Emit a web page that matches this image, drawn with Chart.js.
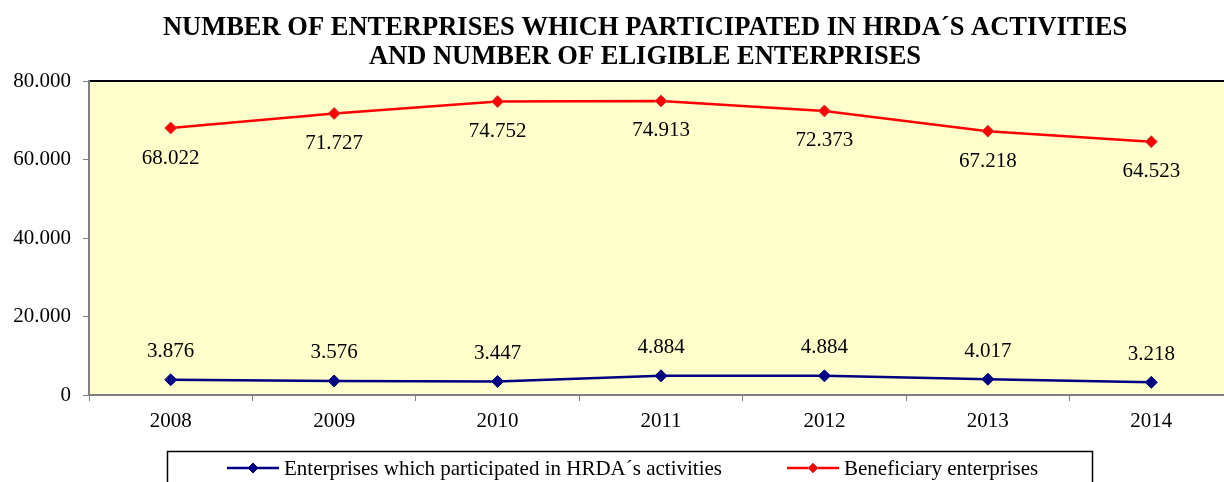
<!DOCTYPE html>
<html>
<head>
<meta charset="utf-8">
<script src="https://cdn.jsdelivr.net/npm/chart.js@4/dist/chart.umd.min.js"></script>
<style>
  html, body { margin: 0; padding: 0; background: #fff; overflow: hidden; }
  #wrap { width: 1240px; height: 482px; }
</style>
</head>
<body>
<div id="wrap"><canvas id="chart" width="1240" height="482"></canvas></div>
<script>
/* ---------- Data ---------- */
const years        = ['2008', '2009', '2010', '2011', '2012', '2013', '2014'];
const participated = [3876, 3576, 3447, 4884, 4884, 4017, 3218];
const beneficiary  = [68022, 71727, 74752, 74913, 72373, 67218, 64523];
const yTicks       = [0, 20000, 40000, 60000, 80000];

const titleLines = [
  'NUMBER OF ENTERPRISES WHICH PARTICIPATED IN HRDA\u00B4S ACTIVITIES',
  'AND NUMBER OF ELIGIBLE ENTERPRISES'
];

const SERIF = '"Liberation Serif", "Times New Roman", serif';
const fmt = (v) => v === 0 ? '0' : v.toLocaleString('de-DE');

/* ---------- Plugins ---------- */
// yellow plot background + black top border
const plotBg = {
  id: 'plotBg',
  beforeDraw(chart) {
    const { ctx, chartArea: a } = chart;
    ctx.save();
    ctx.fillStyle = '#FFFFCC';
    ctx.fillRect(a.left, a.top, a.right - a.left, a.bottom - a.top);
    ctx.strokeStyle = '#000';
    ctx.lineWidth = 2;
    ctx.beginPath();
    ctx.moveTo(a.left, a.top);
    ctx.lineTo(a.right, a.top);
    ctx.stroke();
    ctx.restore();
  }
};

// value labels: red below point, blue above
const valueLabels = {
  id: 'valueLabels',
  afterDatasetsDraw(chart) {
    const { ctx } = chart;
    ctx.save();
    ctx.font = '21px ' + SERIF;
    ctx.fillStyle = '#000';
    ctx.textAlign = 'center';
    ctx.textBaseline = 'middle';
    chart.data.datasets.forEach((ds, i) => {
      const meta = chart.getDatasetMeta(i);
      meta.data.forEach((pt, j) => {
        const dy = ds.labelBelow ? 30 : -28;
        ctx.fillText(fmt(ds.data[j]), pt.x, pt.y + dy);
      });
    });
    ctx.restore();
  }
};

// title + boxed legend
const decorations = {
  id: 'decorations',
  afterDraw(chart) {
    const { ctx } = chart;
    ctx.save();
    ctx.fillStyle = '#000';
    ctx.textAlign = 'center';
    ctx.textBaseline = 'middle';
    ctx.font = 'bold 26.5px ' + SERIF;
    ctx.fillText(titleLines[0], 645, 28);
    ctx.fillText(titleLines[1], 645, 57);

    // legend box
    ctx.strokeStyle = '#000';
    ctx.lineWidth = 1.5;
    ctx.strokeRect(167.5, 451.5, 925, 60);

    const items = [{ ds: chart.data.datasets[0], x: 227 }, { ds: chart.data.datasets[1], x: 787 }];
    ctx.font = '21px ' + SERIF;
    ctx.textAlign = 'left';
    items.forEach(({ ds, x }) => {
      const y = 468;
      ctx.strokeStyle = ds.borderColor;
      ctx.lineWidth = 2.5;
      ctx.beginPath();
      ctx.moveTo(x, y);
      ctx.lineTo(x + 52, y);
      ctx.stroke();
      ctx.fillStyle = ds.pointBackgroundColor;
      ctx.strokeStyle = ds.pointBorderColor;
      ctx.lineWidth = 1;
      ctx.beginPath();
      const cx = x + 26, r = 5;
      ctx.moveTo(cx, y - r); ctx.lineTo(cx + r, y); ctx.lineTo(cx, y + r); ctx.lineTo(cx - r, y);
      ctx.closePath();
      ctx.fill(); ctx.stroke();
      ctx.fillStyle = '#000';
      ctx.fillText(ds.label, x + 57, y + 1);
    });
    ctx.restore();
  }
};

/* ---------- Chart ---------- */
new Chart(document.getElementById('chart'), {
  type: 'line',
  data: {
    labels: years,
    datasets: [
      {
        label: 'Enterprises which participated in HRDA\u00B4s activities',
        data: participated,
        borderColor: '#000080',
        borderWidth: 2.5,
        pointStyle: 'rectRot',
        pointRadius: 6,
        pointBackgroundColor: '#000080',
        pointBorderColor: '#000080',
        pointBorderWidth: 1,
        tension: 0,
        labelBelow: false
      },
      {
        label: 'Beneficiary enterprises',
        data: beneficiary,
        borderColor: '#FF0000',
        borderWidth: 2.5,
        pointStyle: 'rectRot',
        pointRadius: 6,
        pointBackgroundColor: '#FF0000',
        pointBorderColor: '#C0504D',
        pointBorderWidth: 1,
        tension: 0,
        labelBelow: true
      }
    ]
  },
  options: {
    responsive: false,
    animation: false,
    layout: { padding: { top: 81, right: 6, bottom: 47, left: 0 } },
    plugins: { legend: { display: false }, title: { display: false }, tooltip: { enabled: false } },
    scales: {
      x: {
        offset: true,
        afterFit: (s) => { s.height = 40; },
        grid: { display: true, drawOnChartArea: false, offset: true, tickLength: 6, color: '#808080', lineWidth: 1 },
        border: { color: '#808080', width: 2 },
        ticks: { color: '#000', font: { family: SERIF, size: 21 }, padding: 8 }
      },
      y: {
        min: 0,
        max: 80000,
        afterFit: (s) => { s.width = 89; },
        afterBuildTicks: (s) => { s.ticks = yTicks.map(v => ({ value: v })); },
        grid: { display: true, drawOnChartArea: false, tickLength: 6, color: '#808080', lineWidth: 1 },
        border: { color: '#808080', width: 2 },
        ticks: { color: '#000', font: { family: SERIF, size: 21 }, padding: 12, callback: (v) => fmt(v) }
      }
    }
  },
  plugins: [plotBg, valueLabels, decorations]
});
</script>
</body>
</html>
